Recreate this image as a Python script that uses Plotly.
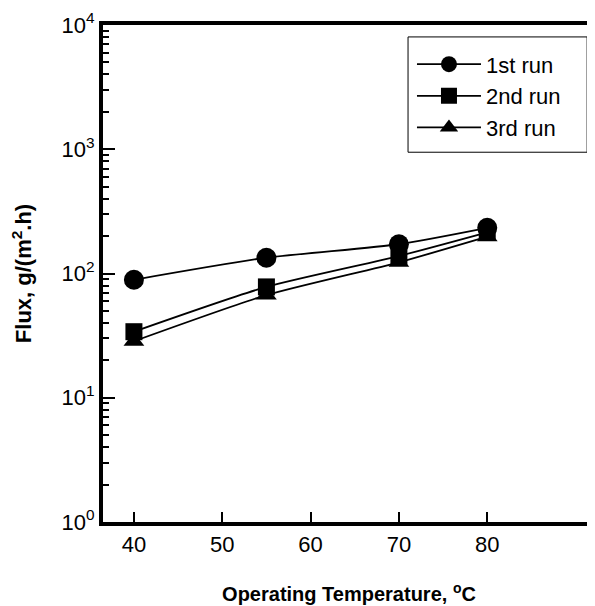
import plotly.graph_objects as go

temps = [40, 55, 70, 80]
run1 = [89, 134, 172, 233]
run2 = [34, 78, 138, 214]
run3 = [28.5, 67, 123, 198]
names = ["1st run", "2nd run", "3rd run"]
symbols = ["circle", "square", "triangle-up"]
sizes = [20, 17, 18]
ytick_vals = [1, 10, 100, 1000, 10000]
ytick_text = ["10<sup>0</sup>", "10<sup>1</sup>", "10<sup>2</sup>", "10<sup>3</sup>", "10<sup>4</sup>"]
xtick_vals = [40, 50, 60, 70, 80]

font = "Liberation Sans, Arial, sans-serif"
fig = go.Figure()
for ys, nm, sym, sz in zip([run1, run2, run3], names, symbols, sizes):
    fig.add_trace(go.Scatter(
        x=temps, y=ys, name=nm, mode="lines+markers",
        line=dict(color="black", width=1.8, shape="spline", smoothing=0.6),
        marker=dict(symbol=sym, size=sz, color="black"),
    ))

minor_vals = [m * 10 ** e for e in range(0, 4) for m in range(2, 10)]

# page body has 8px margin; plot area in page: left 103, top 25, bottom 522, right 595
fig.update_layout(
    width=595, height=606,
    margin=dict(l=95, r=8, t=17, b=92, autoexpand=False),
    plot_bgcolor="white", paper_bgcolor="white",
    font=dict(family=font, size=22, color="black"),
    showlegend=True,
    legend=dict(x=0.628, y=0.963, xanchor="left", yanchor="top",
                borderwidth=0, bgcolor="rgba(0,0,0,0)",
                font=dict(size=22), itemwidth=64, tracegroupgap=0),
    shapes=[dict(type="rect", xref="paper", yref="paper",
                 x0=0.62, x1=0.984, y0=0.744, y1=0.976,
                 line=dict(color="black", width=1), fillcolor="rgba(0,0,0,0)",
                 layer="above")],
    xaxis=dict(range=[36.5, 92.2], tickvals=xtick_vals, ticks="inside", ticklen=10,
               tickwidth=1.5, tickcolor="black", showline=True, linecolor="black",
               linewidth=4, mirror=True, showgrid=False, zeroline=False,
               automargin=False,
               title=dict(text="<b>Operating Temperature, <sup>o</sup>C</b>",
                          font=dict(size=20), standoff=32)),
    yaxis=dict(type="log", range=[0, 4], tickvals=ytick_vals, ticktext=ytick_text,
               ticks="inside", ticklen=12, tickwidth=1.5, tickcolor="black",
               showline=True, linecolor="black", linewidth=4, showgrid=False,
               zeroline=False, automargin=False,
               minor=dict(tickvals=minor_vals, ticks="inside", ticklen=6,
                          tickwidth=1.5, tickcolor="black", showgrid=False),
               title=dict(text="<b>Flux, g/(m<sup>2</sup>.h)</b>",
                          font=dict(size=22), standoff=25)),
)

fig.write_html("out.html")
